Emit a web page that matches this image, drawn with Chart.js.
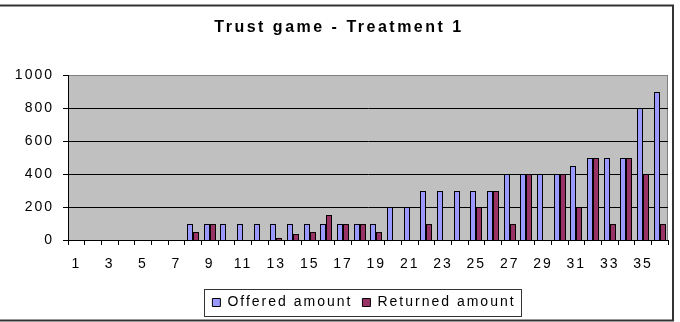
<!DOCTYPE html>
<html>
<head>
<meta charset="utf-8">
<script src="https://cdn.jsdelivr.net/npm/chart.js@4/dist/chart.umd.min.js"></script>
<style>
html,body{margin:0;padding:0;background:#fff;}
canvas{display:block;}
</style>
</head>
<body>
<canvas id="c" width="680" height="322"></canvas>
<script>
const titleText = 'Trust game - Treatment 1';
const categories = ['1','2','3','4','5','6','7','8','9','10','11','12','13','14','15','16','17','18','19','20','21','22','23','24','25','26','27','28','29','30','31','32','33','34','35','36'];
const offered  = [0,0,0,0,0,0,0,100,100,100,100,100,100,100,100,100,100,100,100,200,200,300,300,300,300,300,400,400,400,400,450,500,500,500,800,900];
const returned = [0,0,0,0,0,0,0,50,100,0,0,0,10,35,50,150,100,100,50,0,0,100,0,0,200,300,100,400,0,400,200,500,100,500,400,100];
const seriesNames = ['Offered amount','Returned amount'];
const yTicks = [0,200,400,600,800,1000];

const FONT = "'Liberation Sans', Arial, sans-serif";

const framePlugin = {
  id: 'framePlugin',
  beforeUpdate(chart){ chart.ctx.letterSpacing = '2px'; },
  afterLayout(chart){
    const lg = chart.legend;
    if (lg) { const dx = 364 - (lg.left + lg.right)/2; lg.left += dx; lg.right += dx; }
    const tb = chart.titleBlock;
    if (tb) {
      const dx = 339 - (tb.left + tb.right)/2; tb.left += dx; tb.right += dx;
      if (!tb._lsWrapped) {
        const orig = tb.draw;
        tb.draw = function(){
          const c = this.ctx;
          c.letterSpacing = '2.5px';
          orig.apply(this, arguments);
          c.letterSpacing = '2px';
        };
        tb._lsWrapped = true;
      }
    }
  },
  afterDatasetsUpdate(chart){
    chart.data.datasets.forEach((ds, i) => {
      const meta = chart.getDatasetMeta(i);
      meta.data.forEach(el => {
        el.x = Math.round(el.x);
        el.width = Math.round(el.width);
        el.y = Math.round(el.y);
        el.base = Math.round(el.base);
      });
    });
  },
  beforeDraw(chart){
    const ctx = chart.ctx, a = chart.chartArea;
    ctx.letterSpacing = '2px';
    ctx.save();
    ctx.fillStyle = '#fff';
    ctx.fillRect(0,0,chart.width,chart.height);
    ctx.fillStyle = '#C0C0C0';
    ctx.fillRect(a.left, a.top, a.right - a.left, a.bottom - a.top);
    ctx.strokeStyle = '#808080';
    ctx.lineWidth = 1;
    ctx.beginPath();
    ctx.moveTo(a.left, a.top + 0.5);
    ctx.lineTo(a.right - 0.5, a.top + 0.5);
    ctx.lineTo(a.right - 0.5, a.bottom);
    ctx.stroke();
    ctx.restore();
  },
  afterDraw(chart){
    const ctx = chart.ctx;
    const lg = chart.legend;
    ctx.save();
    if (lg && lg.legendHitBoxes && lg.legendHitBoxes.length){
      const hb = lg.legendHitBoxes;
      const l = hb[0].left - 8;
      const last = hb[hb.length-1];
      const r = last.left + last.width + 6;
      const cy = hb[0].top + hb[0].height/2;
      ctx.strokeStyle = '#333';
      ctx.lineWidth = 1;
      ctx.strokeRect(Math.round(l)+0.5, Math.round(cy-13.5)+0.5, Math.round(r-l), 27);
    }
    ctx.strokeStyle = '#333';
    ctx.lineWidth = 2;
    ctx.strokeRect(-5, 5.5, 678, 315);
    ctx.restore();
  }
};

new Chart(document.getElementById('c'), {
  type: 'bar',
  data: {
    labels: categories,
    datasets: [
      { label: seriesNames[0], data: offered, backgroundColor: '#9999FF', borderColor: '#000', borderWidth: 1 },
      { label: seriesNames[1], data: returned, backgroundColor: '#993366', borderColor: '#000', borderWidth: 1 }
    ]
  },
  options: {
    responsive: false,
    animation: false,
    devicePixelRatio: 1,
    layout: { padding: { left: 0, right: 12, top: 0, bottom: 2.5 } },
    datasets: { bar: { categoryPercentage: 0.72, barPercentage: 1.0 } },
    plugins: {
      title: {
        display: true, text: titleText, color: '#000',
        font: { family: FONT, size: 16, weight: 'bold' },
        padding: { top: 18, bottom: 37.8 }
      },
      legend: {
        display: true, position: 'bottom',
        labels: { color: '#000', font: { family: FONT, size: 14 }, boxWidth: 8, boxHeight: 8, padding: 10 }
      },
      tooltip: { enabled: false }
    },
    scales: {
      x: {
        grid: { display: true, drawOnChartArea: false, drawTicks: true, tickLength: 5, color: '#000', tickColor: '#000' },
        border: { display: true, color: '#000', width: 1 },
        ticks: {
          autoSkip: false, maxRotation: 0, minRotation: 0, padding: 11,
          color: '#000', font: { family: FONT, size: 14 },
          callback: function(v, i){ return i % 2 === 0 ? categories[i] : ''; }
        },
        afterFit(scale){ scale.height = 45.5; }
      },
      y: {
        min: 0, max: 1000,
        afterBuildTicks(scale){ scale.ticks = yTicks.map(v => ({ value: v })); },
        grid: {
          drawTicks: true, tickLength: 5, tickColor: '#000',
          color: (c) => (c.tick && c.tick.value === 1000) ? '#808080' : '#000'
        },
        border: { display: true, color: '#000', width: 1 },
        ticks: { padding: 9, color: '#000', font: { family: FONT, size: 14 },
          callback: (v) => String(v) },
        afterFit(scale){ scale.width = 68; }
      }
    }
  },
  plugins: [framePlugin]
});
</script>
</body>
</html>
